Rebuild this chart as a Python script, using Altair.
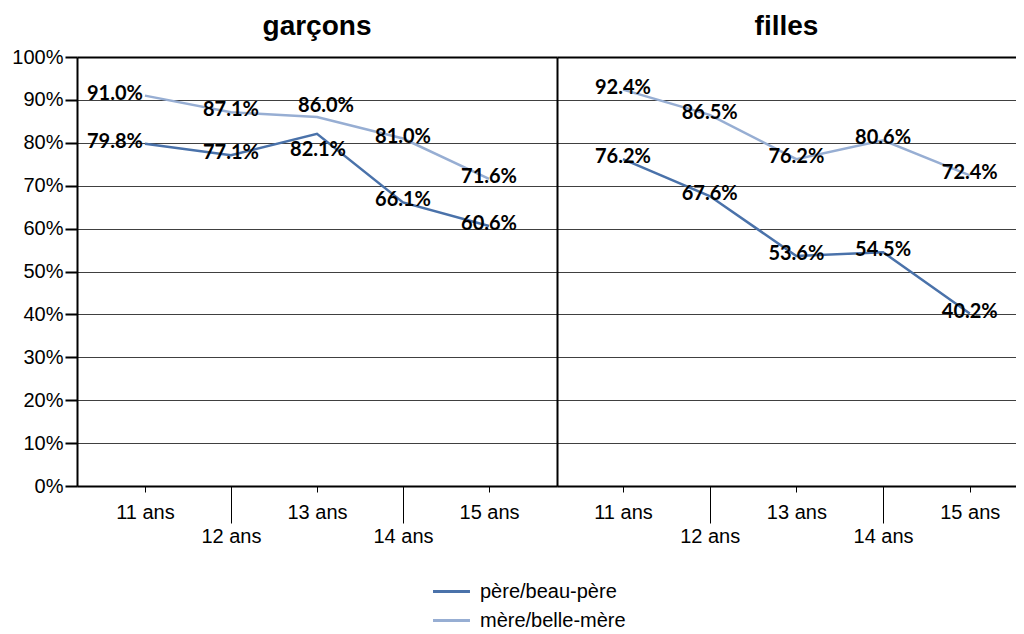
import altair as alt
import pandas as pd

ages = ["11 ans", "12 ans", "13 ans", "14 ans", "15 ans"]
panels = ["garçons", "filles"]
parents = ["père/beau-père", "mère/belle-mère"]
colors = ["#4A72AA", "#97AED3"]

garcons_pere = [79.8, 77.1, 82.1, 66.1, 60.6]
garcons_mere = [91.0, 87.1, 86.0, 81.0, 71.6]
filles_pere = [76.2, 67.6, 53.6, 54.5, 40.2]
filles_mere = [92.4, 86.5, 76.2, 80.6, 72.4]

series = {
    ("garçons", parents[0]): garcons_pere,
    ("garçons", parents[1]): garcons_mere,
    ("filles", parents[0]): filles_pere,
    ("filles", parents[1]): filles_mere,
}
rows = []
for (sexe, parent), vals in series.items():
    for age, v in zip(ages, vals):
        rows.append({"sexe": sexe, "parent": parent, "age": age, "v": v})
df = pd.DataFrame(rows)

FONT = "Liberation Sans"
LONG = "indexof(['12 ans','14 ans'], datum.value) >= 0"
MID = "datum.sexe=='garçons' && datum.age=='13 ans'"

dx_expr = "datum.sexe=='garçons' && datum.age=='11 ans' ? -30 : 0"


def panel(name, pad, align, width, left, title_offset):
    base = alt.Chart(df).transform_filter(alt.datum.sexe == name)
    x = alt.X(
        "age:N", sort=ages,
        scale=alt.Scale(type="point", padding=pad, align=align),
        axis=alt.Axis(
            title=None, labelAngle=0, labelFont=FONT, labelFontSize=20,
            labelColor="black", labelBaseline="top",
            labelPadding={"condition": {"test": LONG, "value": 3}, "value": 10},
            tickSize={"condition": {"test": LONG, "value": 37}, "value": 6},
            tickColor="black", tickWidth=1, domainColor="black", domainWidth=2,
            grid=False, labelOverlap=False,
        ),
    )
    grid_color = {"condition": {"test": "datum.value == 100", "value": "black"}, "value": "#404040"}
    grid_width = {"condition": {"test": "datum.value == 100", "value": 2}, "value": 1}
    if left:
        yaxis = alt.Axis(
            title=None, values=list(range(0, 101, 10)), labelExpr="datum.value + '%'",
            labelFont=FONT, labelFontSize=20, labelColor="black", labelPadding=2,
            tickSize=12, tickWidth=2, tickColor="black",
            domainColor="black", domainWidth=2,
            grid=True, gridColor=grid_color, gridWidth=grid_width,
        )
    else:
        yaxis = alt.Axis(
            title=None, values=list(range(0, 101, 10)), labels=False, ticks=False,
            domainColor="black", domainWidth=2,
            grid=True, gridColor=grid_color, gridWidth=grid_width,
        )
    y = alt.Y("v:Q", scale=alt.Scale(domain=[0, 100]), axis=yaxis)
    line = base.mark_line(strokeWidth=2.5).encode(
        x=x, y=y,
        color=alt.Color(
            "parent:N", scale=alt.Scale(domain=parents, range=colors),
            legend=alt.Legend(
                title=None, orient="none", legendX=359, legendY=519,
                direction="vertical", symbolType="M-1.32,0L1.32,0", symbolSize=784,
                symbolStrokeWidth=3, labelFont=FONT, labelFontSize=20,
                labelColor="black", labelOffset=13, rowPadding=3, padding=0,
            ),
        ),
    )
    lab = base.transform_calculate(lbl="format(datum.v, '.1f') + '%'", dx=dx_expr)
    text_style = dict(font="Lato", fontWeight="bold", fontSize=20, color="black",
                      align="center", baseline="middle")
    enc = dict(x=x, y=y, text="lbl:N")
    text_main = lab.transform_filter("!(" + MID + ")").mark_text(dy=-2, **text_style).encode(
        xOffset=alt.XOffset("dx:Q", scale=None), **enc)
    text_up = lab.transform_filter(MID + " && datum.parent=='mère/belle-mère'").mark_text(
        dy=-11, dx=9, **text_style).encode(**enc)
    text_down = lab.transform_filter(MID + " && datum.parent=='père/beau-père'").mark_text(
        dy=16, dx=1, **text_style).encode(**enc)
    return alt.layer(line, text_main, text_up, text_down).properties(
        width=width, height=429,
        title=alt.Title(name, font=FONT, fontSize=28, fontWeight="bold", color="black",
                        baseline="alphabetic", offset=title_offset, anchor="middle"),
    )


chart = alt.hconcat(
    panel("garçons", 0.79, 0.5, 480, True, -16),
    panel("filles", 0.647, 0.588, 459, False, -6),
    spacing=0,
).resolve_scale(x="independent", y="shared", color="shared").resolve_axis(
    x="independent", y="independent"
).properties(
    padding={"left": 3, "top": 5, "right": 0, "bottom": 0},
).configure_view(stroke=None)

chart.save("out.html", embed_options={"renderer": "svg", "actions": False})
